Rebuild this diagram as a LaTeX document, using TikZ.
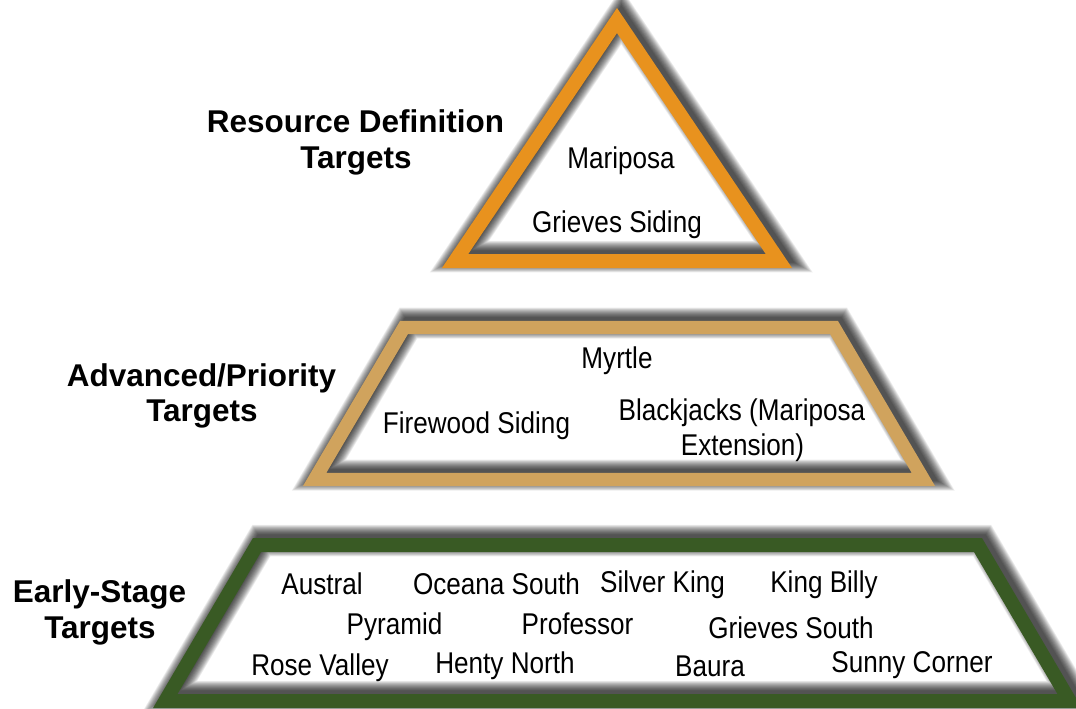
\documentclass[tikz,border=0pt]{standalone}
\usepackage{fontspec}
\setmainfont{Liberation Sans}
\newfontfamily\innerfont{Liberation Sans}[FakeStretch=0.87]
\definecolor{orng}{HTML}{E8921E}
\definecolor{tanc}{HTML}{D0A35D}
\definecolor{grn}{HTML}{395A24}
\tikzset{
  lvl/.style={font=\fontsize{23.6pt}{27pt}\selectfont\bfseries, align=center, anchor=base, inner sep=0pt},
  itm/.style={font=\innerfont\fontsize{22.5pt}{26pt}\selectfont, align=center, anchor=base, inner sep=0pt},
  framebar/.style={line join=miter, miter limit=10},
}
\newcommand\shadowframe[2]{% #1 path, #2 width in px
  \foreach \i in {0,...,13}{
    \draw[black, opacity=0.075, line join=miter, line width={(#2-2+1.5*\i)*0.75pt}, transform canvas={xshift=3.2pt, yshift=3.2pt}] #1;
  }
}
\begin{document}
\begin{tikzpicture}[x=0.75pt, y=-0.75pt]
\useasboundingbox (0,0) rectangle (1076,708);
\clip (0,0) rectangle (1076,708);
\fill[white] (0,0) rectangle (1076,708);

% coordinates (centerlines)
\coordinate (ta) at (617,20.5);
\coordinate (tl) at (455.1,261);
\coordinate (tr) at (778.9,261);

\coordinate (m1) at (404,327.5);
\coordinate (m2) at (834,327.5);
\coordinate (m3) at (923.4,479.5);
\coordinate (m4) at (314.6,479.5);

\coordinate (b1) at (257,545);
\coordinate (b2) at (978,545);
\coordinate (b3) at (1069.7,701);
\coordinate (b4) at (165.3,701);

% shadows
\shadowframe{(ta) -- (tr) -- (tl) -- cycle}{14}
\shadowframe{(m1) -- (m2) -- (m3) -- (m4) -- cycle}{13.5}
\shadowframe{(b1) -- (b2) -- (b3) -- (b4) -- cycle}{14}

% frames
\draw[framebar, orng, line width=10.5pt] (ta) -- (tr) -- (tl) -- cycle;
\draw[framebar, tanc, line width=10.1pt] (m1) -- (m2) -- (m3) -- (m4) -- cycle;
\draw[framebar, grn, line width=10.5pt] (b1) -- (b2) -- (b3) -- (b4) -- cycle;

% level labels
\node[lvl] (l1a) at (355.5,132) {Resource Definition};
\node[lvl] (l1b) at (356,168) {Targets};
\node[lvl] (l2a) at (201.5,386) {Advanced/Priority};
\node[lvl] (l2b) at (202,421) {Targets};
\node[lvl] (l3a) at (99.5,602) {Early-Stage};
\node[lvl] (l3b) at (100,638) {Targets};

% top items
\node[itm] (mar) at (621,168) {Mariposa};
\node[itm] (gsd) at (617,232) {Grieves Siding};

% middle items
\node[itm] (myr) at (617,368) {Myrtle};
\node[itm] (fws) at (476.5,433) {Firewood Siding};
\node[itm] (bj1) at (742,420) {Blackjacks (Mariposa};
\node[itm] (bj2) at (742.5,455) {Extension)};

% bottom items
\node[itm] (aus) at (322,594) {Austral};
\node[itm] (ocs) at (496.5,594) {Oceana South};
\node[itm] (svk) at (662.5,592) {Silver King};
\node[itm] (kgb) at (824,592) {King Billy};
\node[itm] (pyr) at (394.5,634) {Pyramid};
\node[itm] (pro) at (577.5,634) {Professor};
\node[itm] (grs) at (791,638) {Grieves South};
\node[itm] (rsv) at (320,675) {Rose Valley};
\node[itm] (htn) at (505,673) {Henty North};
\node[itm] (bau) at (710,676) {Baura};
\node[itm] (snc) at (912,672) {Sunny Corner};
\end{tikzpicture}
\end{document}
